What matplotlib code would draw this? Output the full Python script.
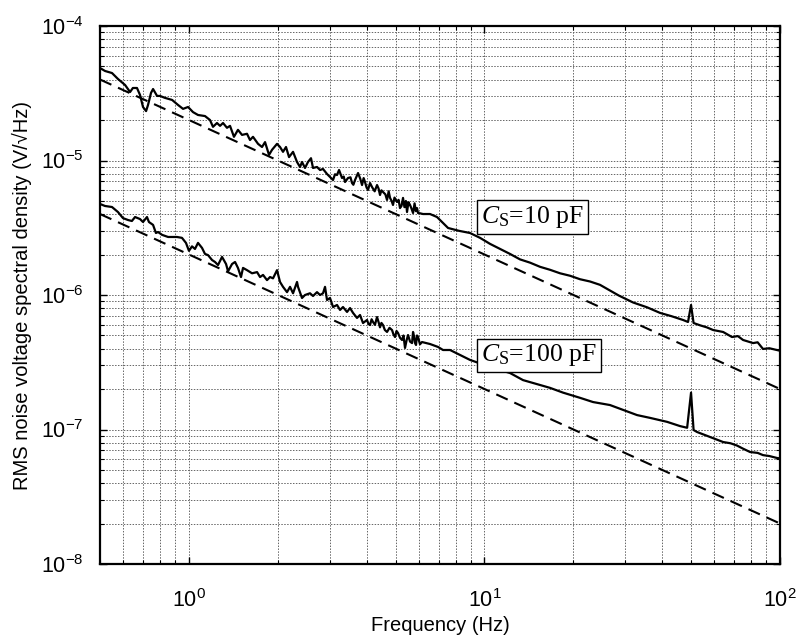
import matplotlib
matplotlib.use("Agg")
import matplotlib.pyplot as plt
from matplotlib.ticker import LogLocator, NullFormatter

plt.rcParams['font.family'] = ['Liberation Sans', 'DejaVu Sans']
plt.rcParams['mathtext.default'] = 'regular'
plt.rcParams['mathtext.fontset'] = 'custom'
plt.rcParams['mathtext.it'] = 'Liberation Serif:italic'
plt.rcParams['mathtext.rm'] = 'Liberation Serif'

# ---- data ----
freq_10pF = [0.500, 0.520, 0.549, 0.575, 0.608, 0.632, 0.646, 0.667, 0.683, 0.699,
             0.716, 0.727, 0.744, 0.756, 0.780, 0.798, 0.830, 0.877, 0.918, 0.955,
             0.993, 1.032, 1.073, 1.133, 1.178, 1.206, 1.244, 1.274, 1.304, 1.345,
             1.377, 1.420, 1.465, 1.512, 1.572, 1.609, 1.647, 1.713, 1.767, 1.809,
             1.866, 1.910, 1.986, 2.033, 2.081, 2.130, 2.181, 2.250,
             2.321, 2.376, 2.413, 2.470, 2.528, 2.588, 2.629, 2.712, 2.777, 2.842,
             2.932, 3.001, 3.073, 3.12, 3.170, 3.220, 3.296, 3.34, 3.374, 3.453,
             3.52, 3.563, 3.60, 3.647, 3.734, 3.80, 3.852, 3.90, 3.942, 3.99,
             4.035, 4.10, 4.164, 4.25, 4.329, 4.38, 4.431, 4.48, 4.536, 4.62,
             4.680, 4.74, 4.791, 4.85, 4.903, 4.96, 5.059, 5.12, 5.178, 5.24,
             5.301, 5.36, 5.42, 5.469, 5.53, 5.599, 5.66, 5.732, 5.80, 5.86,
             5.912, 5.958, 6.05, 6.195,
             6.543, 6.908, 7.239, 7.529, 8.20, 8.936, 9.660, 10.44, 11.29, 12.20,
             13.19, 14.26, 15.42, 16.66, 18.02, 19.48, 21.05, 22.76, 24.60, 26.18,
             28.5, 31.82, 35.5, 39.27, 43.0, 46.98, 48.84, 50.0, 51.0, 53.65,
             56.5, 59.4, 64.2, 68.8, 72.0, 75.0, 81.1, 84.0, 87.6, 92.0, 97.7, 100.0]
psd_10pF = [4.87e-5, 4.63e-5, 4.47e-5, 4.04e-5, 3.64e-5, 3.23e-5, 3.46e-5, 3.46e-5, 3.07e-5, 2.50e-5,
            2.33e-5, 2.59e-5, 3.18e-5, 3.40e-5, 3.02e-5, 3.02e-5, 2.92e-5, 2.82e-5, 2.59e-5, 2.42e-5,
            2.50e-5, 2.29e-5, 2.18e-5, 2.14e-5, 2.00e-5, 1.78e-5, 1.90e-5, 1.81e-5, 1.90e-5, 1.75e-5,
            1.81e-5, 1.50e-5, 1.69e-5, 1.55e-5, 1.58e-5, 1.42e-5, 1.50e-5, 1.33e-5, 1.26e-5, 1.37e-5,
            1.10e-5, 1.20e-5, 1.33e-5, 1.26e-5, 1.16e-5, 1.26e-5, 1.06e-5, 1.16e-5,
            9.75e-6, 8.95e-6, 9.75e-6, 8.80e-6, 9.75e-6, 1.04e-5, 8.80e-6, 8.95e-6, 8.50e-6, 8.65e-6,
            7.94e-6, 7.54e-6, 7.16e-6, 7.9e-6, 7.80e-6, 8.50e-6, 7.41e-6, 7.6e-6, 6.92e-6, 7.41e-6,
            7.5e-6, 6.80e-6, 6.6e-6, 7.16e-6, 8.07e-6, 7.3e-6, 6.57e-6, 7.4e-6, 6.92e-6, 6.3e-6,
            6.04e-6, 6.8e-6, 6.35e-6, 5.9e-6, 6.57e-6, 6.2e-6, 5.54e-6, 6.0e-6, 5.83e-6, 5.6e-6,
            5.09e-6, 5.9e-6, 5.27e-6, 5.0e-6, 4.67e-6, 5.3e-6, 4.92e-6, 5.1e-6, 4.43e-6, 4.6e-6,
            5.27e-6, 4.5e-6, 5.0e-6, 4.14e-6, 4.9e-6, 4.67e-6, 4.4e-6, 4.07e-6, 4.8e-6, 4.2e-6,
            4.43e-6, 4.07e-6, 4.05e-6, 4.00e-6,
            4.00e-6, 3.80e-6, 3.43e-6, 3.15e-6, 3.00e-6, 2.89e-6, 2.66e-6, 2.40e-6, 2.20e-6, 2.02e-6,
            1.84e-6, 1.74e-6, 1.62e-6, 1.54e-6, 1.45e-6, 1.39e-6, 1.31e-6, 1.26e-6, 1.19e-6, 1.10e-6,
            9.9e-7, 8.80e-7, 8.1e-7, 7.36e-7, 6.95e-7, 6.52e-7, 6.30e-7, 8.43e-7, 6.19e-7, 5.95e-7,
            5.75e-7, 5.49e-7, 5.31e-7, 4.87e-7, 4.95e-7, 4.63e-7, 4.39e-7, 4.45e-7, 3.97e-7, 4.02e-7, 3.90e-7, 3.85e-7]

freq_100pF = [0.500, 0.520, 0.549, 0.575, 0.598, 0.622, 0.641, 0.657, 0.683, 0.699,
              0.721, 0.732, 0.756, 0.773, 0.786, 0.811, 0.850, 0.911, 0.947, 0.977,
              1.000, 1.024, 1.048, 1.073, 1.107, 1.133, 1.160, 1.197, 1.225, 1.254,
              1.294, 1.335, 1.356, 1.399, 1.432, 1.465, 1.500, 1.524, 1.572, 1.635,
              1.700, 1.740, 1.781, 1.837, 1.881, 1.925, 1.986, 2.033, 2.081, 2.147,
              2.198, 2.250, 2.321, 2.339, 2.413, 2.470, 2.568, 2.629, 2.712, 2.777,
              2.842, 2.887, 2.932, 3.001, 3.073, 3.170, 3.245, 3.321, 3.427, 3.508,
              3.591, 3.704, 3.792, 3.881,
              4.004, 4.05, 4.099, 4.15, 4.196, 4.26, 4.329, 4.38, 4.431, 4.48,
              4.536, 4.60, 4.680, 4.77, 4.866, 4.92, 4.980, 5.04, 5.098, 5.18,
              5.260, 5.32, 5.384, 5.45, 5.512, 5.60, 5.687, 5.732, 5.78, 5.82,
              5.866, 5.91, 5.958, 6.05, 6.147,
              6.543, 6.963, 7.239, 7.647, 8.936, 10.44, 12.20, 13.50,
              15.0, 16.66, 18.44, 21.05, 23.30, 26.59, 29.44, 32.83, 36.33, 41.48,
              45.90, 48.5, 50.0, 51.0, 52.4, 55.0, 58.0, 64.2, 68.0, 71.5,
              75.0, 79.2, 84.0, 87.6, 92.0, 97.7, 100.0]
psd_100pF = [4.75e-6, 4.59e-6, 4.51e-6, 4.14e-6, 3.73e-6, 3.61e-6, 3.55e-6, 3.80e-6, 3.67e-6, 3.49e-6,
             3.80e-6, 3.49e-6, 3.32e-6, 2.89e-6, 2.94e-6, 2.80e-6, 2.70e-6, 2.70e-6, 2.66e-6, 2.44e-6,
             2.13e-6, 2.30e-6, 2.20e-6, 2.44e-6, 2.24e-6, 2.02e-6, 1.98e-6, 1.82e-6, 1.76e-6, 1.67e-6,
             1.92e-6, 1.70e-6, 1.50e-6, 1.70e-6, 1.76e-6, 1.59e-6, 1.36e-6, 1.59e-6, 1.53e-6, 1.45e-6,
             1.48e-6, 1.36e-6, 1.41e-6, 1.29e-6, 1.36e-6, 1.33e-6, 1.53e-6, 1.25e-6, 1.15e-6, 1.05e-6,
             1.15e-6, 1.03e-6, 1.25e-6, 1.15e-6, 9.50e-7, 1.00e-6, 1.03e-6, 9.83e-7, 1.05e-6, 1.00e-6,
             1.03e-6, 1.15e-6, 9.18e-7, 9.50e-7, 8.14e-7, 8.43e-7, 7.74e-7, 8.14e-7, 7.48e-7, 8.00e-7,
             7.36e-7, 6.75e-7, 7.10e-7, 6.19e-7,
             6.52e-7, 6.1e-7, 5.98e-7, 6.6e-7, 6.30e-7, 6.0e-7, 6.86e-7, 6.3e-7, 5.75e-7, 6.2e-7,
             5.98e-7, 5.5e-7, 5.31e-7, 5.7e-7, 5.49e-7, 5.1e-7, 4.87e-7, 5.4e-7, 5.22e-7, 4.8e-7,
             4.63e-7, 5.0e-7, 4.04e-7, 4.6e-7, 5.04e-7, 4.5e-7, 4.39e-7, 5.31e-7, 4.9e-7, 4.4e-7,
             4.25e-7, 5.0e-7, 4.87e-7, 4.3e-7, 4.47e-7,
             4.32e-7, 4.11e-7, 3.90e-7, 3.90e-7, 3.29e-7, 2.92e-7, 2.63e-7, 2.33e-7,
             2.18e-7, 2.04e-7, 1.88e-7, 1.72e-7, 1.60e-7, 1.52e-7, 1.40e-7, 1.28e-7, 1.22e-7, 1.14e-7,
             1.06e-7, 1.03e-7, 1.88e-7, 9.91e-8, 9.58e-8, 9.2e-8, 8.80e-8, 8.07e-8, 7.9e-8, 7.60e-8,
             7.2e-8, 6.80e-8, 6.7e-8, 6.45e-8, 6.35e-8, 6.14e-8, 6.1e-8]

theory_freq = [0.5, 100.0]
theory_10pF = [4.0e-5, 2.0e-7]
theory_100pF = [4.0e-6, 2.0e-8]

label_10pF = r'$\mathit{C}_{\mathrm{S}}$=10 pF'
label_100pF = r'$\mathit{C}_{\mathrm{S}}$=100 pF'

# ---- figure ----
fig = plt.figure(figsize=(7.97, 6.41), dpi=100)
ax = fig.add_axes([100/797, 1-564/641, 680/797, 538/641])

ax.plot(freq_10pF, psd_10pF, color='black', lw=1.6)
ax.plot(freq_100pF, psd_100pF, color='black', lw=1.6)
ax.plot(theory_freq, theory_10pF, color='black', lw=1.5, ls=(0, (6, 3.5)))
ax.plot(theory_freq, theory_100pF, color='black', lw=1.5, ls=(0, (6, 3.5)))

ax.set_xscale('log')
ax.set_yscale('log')
ax.set_xlim(0.5, 100)
ax.set_ylim(1e-8, 1e-4)

ax.xaxis.set_major_locator(LogLocator(base=10, numticks=10))
ax.xaxis.set_minor_locator(LogLocator(base=10, subs=range(2, 10), numticks=20))
ax.yaxis.set_major_locator(LogLocator(base=10, numticks=10))
ax.yaxis.set_minor_locator(LogLocator(base=10, subs=range(2, 10), numticks=20))
ax.xaxis.set_minor_formatter(NullFormatter())
ax.yaxis.set_minor_formatter(NullFormatter())

ax.grid(True, which='both', color='0.4', lw=0.7, ls=(0, (1.5, 1.5)))
ax.set_axisbelow(True)

ax.tick_params(which='both', direction='in', top=True, right=True, labelsize=15.5)
ax.tick_params(which='major', length=5, width=1)
ax.tick_params(axis='x', which='major', pad=18)
ax.tick_params(axis='y', which='major', pad=12)
ax.tick_params(which='minor', length=3, width=0.8)
for s in ax.spines.values():
    s.set_linewidth(1.6)

ax.set_xlabel('Frequency (Hz)', fontsize=14.5, labelpad=3)
ax.set_ylabel('RMS noise voltage spectral density (V/\u221aHz)', fontsize=14.5, labelpad=6)

box = dict(boxstyle='square,pad=0.15', fc='white', ec='black', lw=1.0)
ax.text(9.75, 3.8e-6, label_10pF, family='Liberation Serif', fontsize=18.5,
        ha='left', va='center', bbox=box)
ax.text(9.75, 3.55e-7, label_100pF, family='Liberation Serif', fontsize=18.5,
        ha='left', va='center', bbox=box)

fig.savefig('out.png', dpi=100)
